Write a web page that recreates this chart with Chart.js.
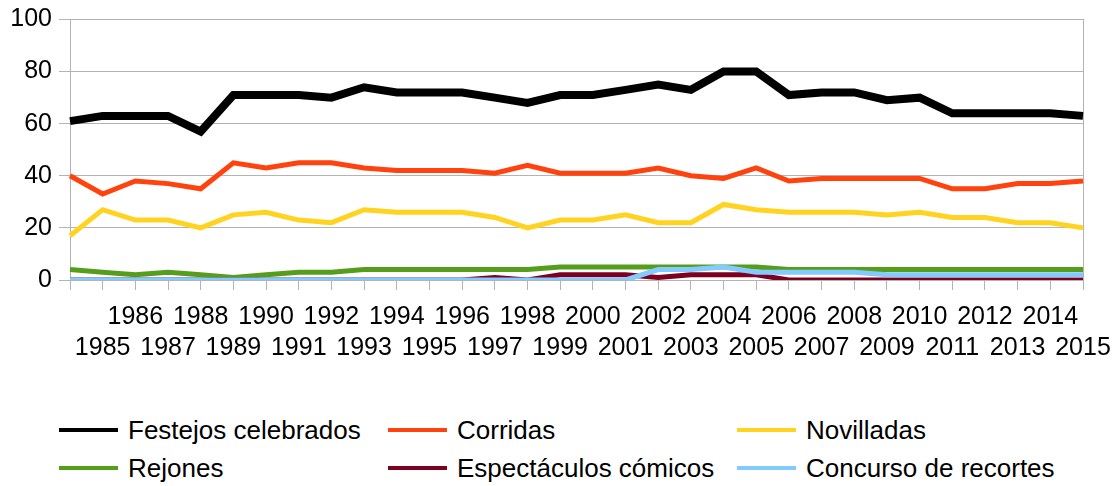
<!DOCTYPE html>
<html lang="es">
<head>
<meta charset="UTF-8">
<title>Festejos taurinos 1984-2015</title>
<script src="https://cdn.jsdelivr.net/npm/chart.js@4.4.1/dist/chart.umd.min.js"></script>
<style>
    body { margin: 0; background: #fff; font-family: 'Liberation Sans', Arial, sans-serif; }
    #wrap { position: relative; width: 1119px; height: 486px; }
    #chart { position: absolute; left: 0; top: 0; }
    .leg { position: absolute; display: flex; align-items: center; height: 34px; margin-top: -17px; font-size: 26px; color: #000; white-space: nowrap; }
    .leg i { display: inline-block; width: 59px; height: 4px; margin-right: 10px; }
</style>
</head>
<body>
<div id="wrap">
    <canvas id="chart" width="1119" height="373"></canvas>
</div>
<script>
// Años
const years = ['1984','1985','1986','1987','1988','1989','1990','1991','1992','1993','1994','1995','1996','1997','1998','1999',
               '2000','2001','2002','2003','2004','2005','2006','2007','2008','2009','2010','2011','2012','2013','2014','2015'];

// Series
const festejos  = [61,63,63,63,57,71,71,71,70,74,72,72,72,70,68,71, 71,73,75,73,80,80,71,72,72,69,70,64,64,64,64,63];
const corridas  = [40,33,38,37,35,45,43,45,45,43,42,42,42,41,44,41, 41,41,43,40,39,43,38,39,39,39,39,35,35,37,37,38];
const novilladas= [17,27,23,23,20,25,26,23,22,27,26,26,26,24,20,23, 23,25,22,22,29,27,26,26,26,25,26,24,24,22,22,20];
const rejones   = [4,3,2,3,2,1,2,3,3,4,4,4,4,4,4,5, 5,5,5,5,5,5,4,4,4,4,4,4,4,4,4,4];
const comicos   = [0,0,0,0,0,0,0,0,0,0,0,0,0,1,0,2, 2,2,1,2,2,2,0,0,0,0,0,0,0,0,0,0];
const recortes  = [0,0,0,0,0,0,0,0,0,0,0,0,0,0,0,0, 0,0,4,4,5,3,3,3,3,2,2,2,2,2,2,2];

const yTicks = [0, 20, 40, 60, 80, 100];

const series = [
    { label: 'Festejos celebrados', data: festejos, color: '#000000', width: 8 },
    { label: 'Corridas', data: corridas, color: '#ff420e', width: 5 },
    { label: 'Novilladas', data: novilladas, color: '#ffd320', width: 5 },
    { label: 'Rejones', data: rejones, color: '#579d1c', width: 5 },
    { label: 'Espectáculos cómicos', data: comicos, color: '#7e0021', width: 5 },
    { label: 'Concurso de recortes', data: recortes, color: '#83caff', width: 5 }
];

const grid = '#b3b3b3';
const family = "'Liberation Sans', Arial, sans-serif";

new Chart(document.getElementById('chart'), {
    type: 'line',
    data: {
        labels: years,
        datasets: series.map((s, i) => ({
            label: s.label,
            data: s.data,
            borderColor: s.color,
            backgroundColor: s.color,
            borderWidth: s.width,
            pointRadius: 0,
            tension: 0,
            fill: false,
            order: series.length - i   // las últimas series quedan encima
        }))
    },
    options: {
        responsive: false,
        animation: false,
        layout: { padding: { left: 0, right: 36, top: 19, bottom: 0 } },
        plugins: { legend: { display: false }, tooltip: { enabled: false } },
        scales: {
            x: {
                afterFit: s => { s.height = 93; s.paddingLeft = 0; s.paddingRight = 0; },
                grid: { drawOnChartArea: false, drawTicks: true, tickLength: 10, color: grid },
                border: { color: grid },
                ticks: {
                    autoSkip: false, maxRotation: 0, color: '#000', padding: 12,
                    font: { family: family, size: 25, lineHeight: 1.24 },
                    // etiquetas escalonadas en dos filas
                    callback: (v, i) => i === 0 ? '' : (i % 2 === 0 ? [years[i], ''] : ['', years[i]])
                }
            },
            y: {
                min: 0, max: 100,
                afterBuildTicks: s => { s.ticks = yTicks.map(v => ({ value: v })); },
                afterFit: s => { s.width = 70; },
                grid: { color: grid, tickLength: 11 },
                border: { color: grid },
                ticks: { color: '#000', padding: 7, font: { family: family, size: 25, lineHeight: 1 } }
            },
            y2: {
                position: 'right', min: 0, max: 100,
                afterFit: s => { s.width = 0; },
                grid: { display: false },
                ticks: { display: false },
                border: { display: true, color: grid }
            }
        }
    }
});

// Leyenda
const wrap = document.getElementById('wrap');
const legX = [59, 388, 737];
const legY = [430, 468];
series.forEach((s, i) => {
    const d = document.createElement('div');
    d.className = 'leg';
    d.style.left = legX[i % 3] + 'px';
    d.style.top = legY[Math.floor(i / 3)] + 'px';
    d.innerHTML = '<i style="background:' + s.color + '"></i>' + s.label;
    wrap.appendChild(d);
});
</script>
</body>
</html>
